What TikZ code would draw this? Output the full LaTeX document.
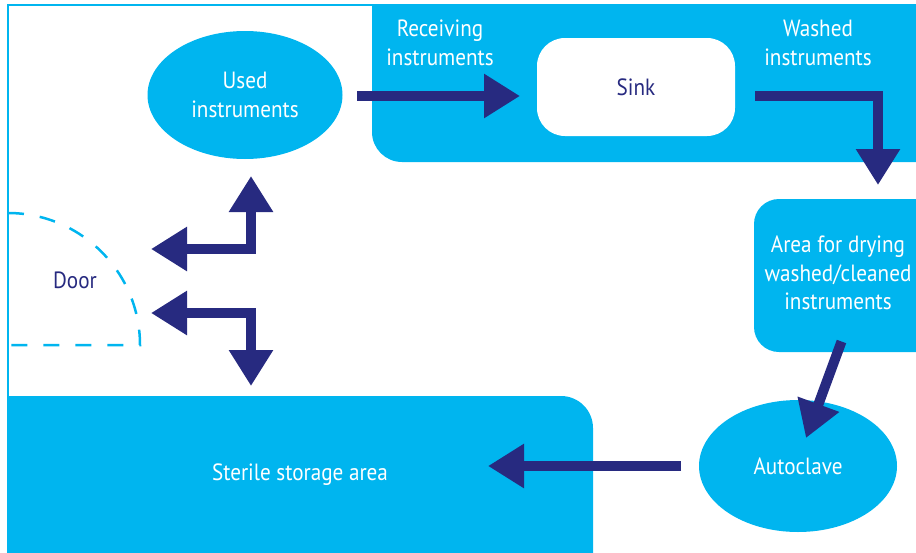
\documentclass[tikz,border=0pt]{standalone}
\usepackage{fontspec}
\setmainfont{PT Sans}[FakeStretch=0.9]
\usetikzlibrary{arrows.meta,shapes.geometric}
\definecolor{cyanfill}{RGB}{0,181,239}
\definecolor{arrowblue}{RGB}{39,42,128}
\begin{document}
\begin{tikzpicture}[x=1pt,y=-1pt,
  txt/.style={align=center, font=\fontsize{23.5}{28.5}\selectfont, inner sep=0pt},
  lab/.style={txt, text=white},
  darklab/.style={txt, text=arrowblue},
  oval/.style={ellipse, fill=cyanfill, inner sep=0pt, text=white, align=center, font=\fontsize{23.5}{28.5}\selectfont},
  flow/.style={draw=arrowblue, line width=10pt, line join=miter, -{Triangle[length=36pt,width=42pt]}},
  twoway/.style={draw=arrowblue, line width=10pt, line join=miter, {Triangle[length=36pt,width=42pt]}-{Triangle[length=36pt,width=42pt]}},
  frame/.style={draw=cyanfill, line width=2.5pt},
  doorline/.style={draw=cyanfill, line width=2.5pt, dash pattern=on 16pt off 16pt}]
\useasboundingbox (0,0) rectangle (916,552);
% outer frame
\draw[frame] (8,560) -- (8,5) -- (400,5);
% receiving / washing area
\fill[cyanfill] (372,4) -- (372,132) arc[start angle=180,end angle=270,radius=30pt] -- (930,162) -- (930,4) -- cycle;
% drying area
\fill[cyanfill] (930,199) -- (779,199) arc[start angle=90,end angle=180,radius=25pt] -- (754,327) arc[start angle=180,end angle=270,radius=25pt] -- (930,352) -- cycle;
% sterile storage area
\fill[cyanfill] (7,396) -- (561,396) arc[start angle=90,end angle=0,radius=32pt] -- (593,560) -- (7,560) -- cycle;
% door
\draw[doorline] (8,213) arc[start angle=90,end angle=0,radius=132pt] -- (8,345);
% nodes
\node[oval, minimum width=195pt, minimum height=128pt] (used) at (245,95) {Used\\instruments};
\node[fill=white, rounded corners=28pt, minimum width=198pt, minimum height=98pt, darklab] (sink) at (636,87) {Sink};
\node[lab] (recv) at (440,43) {Receiving\\instruments};
\node[lab] (washed) at (818,43) {Washed\\instruments};
\node[lab] (dry) at (838,273) {Area for drying\\washed/cleaned\\instruments};
\node[oval, minimum width=198pt, minimum height=132pt] (auto) at (798,466) {Autoclave};
\node[lab] (sterile) at (300,475) {Sterile storage area};
\node[darklab] (door) at (75,280) {Door};
% arrow end points
\coordinate (a1s) at (357,96);
\coordinate (a1e) at (520,96);
\coordinate (a2s) at (755,96);
\coordinate (a2c) at (878,96);
\coordinate (a2e) at (878,185);
\coordinate (a3s) at (841.5,341.5);
\coordinate (a3e) at (806,438);
\coordinate (a4s) at (681,466);
\coordinate (a4e) at (488,466);
\coordinate (d1a) at (151,249);
\coordinate (d1c) at (251,249);
\coordinate (d1b) at (251,176);
\coordinate (d2a) at (151,313);
\coordinate (d2c) at (251,313);
\coordinate (d2b) at (251,386);
% arrows
\draw[flow] (a1s) -- (a1e);
\draw[flow] (a2s) -- (a2c) -- (a2e);
\draw[flow] (a3s) -- (a3e);
\draw[flow] (a4s) -- (a4e);
\draw[twoway] (d1a) -- (d1c) -- (d1b);
\draw[twoway] (d2a) -- (d2c) -- (d2b);
\end{tikzpicture}
\end{document}
